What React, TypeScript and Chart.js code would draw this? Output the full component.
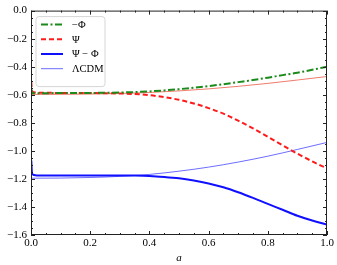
import React, { useEffect, useRef } from "react";
import { Chart, registerables } from "chart.js";

Chart.register(...registerables);

// Scale factor a (model curves)
const aValues = [
  0.001, 0.003, 0.006, 0.01, 0.02, 0.05, 0.1, 0.15, 0.2, 0.25, 0.3, 0.35, 0.4,
  0.45, 0.5, 0.55, 0.6, 0.65, 0.7, 0.75, 0.8, 0.85, 0.9, 0.95, 1.0,
];
const minusPhi = [
  -0.56, -0.585, -0.59, -0.59, -0.59, -0.589, -0.588, -0.588, -0.587, -0.586,
  -0.584, -0.581, -0.576, -0.569, -0.56, -0.55, -0.538, -0.525, -0.51, -0.495,
  -0.478, -0.46, -0.443, -0.422, -0.4,
];
const psi = [
  -0.51, -0.565, -0.578, -0.582, -0.585, -0.586, -0.587, -0.587, -0.588, -0.589,
  -0.591, -0.595, -0.603, -0.617, -0.636, -0.662, -0.695, -0.735, -0.785, -0.84,
  -0.9, -0.96, -1.02, -1.075, -1.125,
];
const psiMinusPhi = [
  -1.07, -1.15, -1.168, -1.172, -1.175, -1.175, -1.175, -1.175, -1.175, -1.175,
  -1.175, -1.176, -1.179, -1.186, -1.196, -1.212, -1.233, -1.26, -1.295, -1.335,
  -1.378, -1.42, -1.463, -1.497, -1.525,
];

// ΛCDM reference curves
const lcdmA = [0.0, 0.1, 0.2, 0.3, 0.4, 0.5, 0.6, 0.7, 0.8, 0.9, 1.0];
const lcdmPsiMinusPhi = [
  -1.195, -1.194, -1.19, -1.182, -1.168, -1.145, -1.116, -1.08, -1.038, -0.99, -0.94,
];
const lcdmPhi = [
  -0.5975, -0.597, -0.595, -0.591, -0.584, -0.5725, -0.558, -0.54, -0.519, -0.495, -0.47,
];

// Axes
const xMin = 0;
const xMax = 1;
const xStep = 0.2;
const xMinorStep = 0.05;
const yMin = -1.6;
const yMax = 0;
const yStep = 0.2;
const yMinorStep = 0.05;
const xTitle = "a";

const legendLabels = ["\u2212\u03A6", "\u03A8", "\u03A8 \u2212 \u03A6", "\u039BCDM"];

const FONT = "'Liberation Serif', 'DejaVu Serif', serif";

const pts = (xs: number[], ys: number[]) => xs.map((x, i) => ({ x, y: ys[i] }));

const fmt = (v: number) => {
  const s = Math.abs(v) < 1e-9 ? "0.0" : v.toFixed(1);
  return s.replace("-", "\u2212");
};

const decorPlugin = {
  id: "decor",
  afterDraw(chart: any) {
    const { ctx, chartArea } = chart;
    const { left, right, top, bottom } = chartArea;
    const xs = chart.scales.x;
    const ys = chart.scales.y;
    ctx.save();
    ctx.strokeStyle = "#222";
    ctx.lineWidth = 1;
    // frame
    ctx.strokeRect(left + 0.5, top + 0.5, right - left - 1, bottom - top - 1);
    const majL = 4;
    const minL = 2;
    ctx.beginPath();
    const nx = Math.round((xMax - xMin) / xMinorStep);
    for (let i = 0; i <= nx; i++) {
      const v = xMin + i * xMinorStep;
      const isMaj = Math.abs(v / xStep - Math.round(v / xStep)) < 1e-6;
      const L = isMaj ? majL : minL;
      const px = Math.round(xs.getPixelForValue(v)) + 0.5;
      ctx.moveTo(px, bottom);
      ctx.lineTo(px, bottom - L);
      ctx.moveTo(px, top);
      ctx.lineTo(px, top + L);
    }
    const ny = Math.round((yMax - yMin) / yMinorStep);
    for (let i = 0; i <= ny; i++) {
      const v = yMin + i * yMinorStep;
      const isMaj = Math.abs(v / yStep - Math.round(v / yStep)) < 1e-6;
      const L = isMaj ? majL : minL;
      const py = Math.round(ys.getPixelForValue(v)) + 0.5;
      ctx.moveTo(left, py);
      ctx.lineTo(left + L, py);
      ctx.moveTo(right, py);
      ctx.lineTo(right - L, py);
    }
    ctx.stroke();

    // legend
    const bx = left + 5;
    const by = top + 6;
    const bw = 69;
    const bh = 70;
    ctx.beginPath();
    const r = 3;
    ctx.moveTo(bx + r, by);
    ctx.arcTo(bx + bw, by, bx + bw, by + bh, r);
    ctx.arcTo(bx + bw, by + bh, bx, by + bh, r);
    ctx.arcTo(bx, by + bh, bx, by, r);
    ctx.arcTo(bx, by, bx + bw, by, r);
    ctx.closePath();
    ctx.fillStyle = "rgba(255,255,255,0.85)";
    ctx.fill();
    ctx.strokeStyle = "#d6d6d6";
    ctx.lineWidth = 1;
    ctx.stroke();
    ctx.font = `10.5px ${FONT}`;
    ctx.textBaseline = "middle";
    ctx.textAlign = "left";
    legendLabels.forEach((label, i) => {
      const ds = chart.data.datasets[i];
      const y = by + 8 + i * 14.7;
      ctx.beginPath();
      ctx.strokeStyle = ds.borderColor;
      ctx.lineWidth = ds.borderWidth;
      ctx.setLineDash(ds.borderDash || []);
      ctx.moveTo(bx + 5, y);
      ctx.lineTo(bx + 27, y);
      ctx.stroke();
      ctx.setLineDash([]);
      ctx.fillStyle = "#000";
      ctx.fillText(label, bx + 36, y + 0.5);
    });
    ctx.restore();
  },
};

export default function App() {
  const ref = useRef<HTMLCanvasElement>(null);
  useEffect(() => {
    document.body.style.margin = "0";
    const common = {
      pointRadius: 0,
      cubicInterpolationMode: "monotone" as const,
    };
    const chart = new Chart(ref.current!, {
      type: "line",
      data: {
        datasets: [
          {
            label: legendLabels[0],
            data: pts(aValues, minusPhi),
            borderColor: "#1a8a1a",
            borderWidth: 2,
            borderDash: [7, 2.5, 2, 2.5],
            order: 1,
            ...common,
          },
          {
            label: legendLabels[1],
            data: pts(aValues, psi),
            borderColor: "#ff1a1a",
            borderWidth: 2,
            borderDash: [5, 3],
            order: 2,
            ...common,
          },
          {
            label: legendLabels[2],
            data: pts(aValues, psiMinusPhi),
            borderColor: "#1010ff",
            borderWidth: 2,
            order: 3,
            ...common,
          },
          {
            label: legendLabels[3],
            data: pts(lcdmA, lcdmPsiMinusPhi),
            borderColor: "rgba(60,60,255,0.75)",
            borderWidth: 1,
            order: 4,
            ...common,
          },
          {
            label: "\u039BCDM \u03A6",
            data: pts(lcdmA, lcdmPhi),
            borderColor: "rgba(235,90,70,0.8)",
            borderWidth: 1,
            order: 5,
            ...common,
          },
        ],
      },
      options: {
        animation: false,
        responsive: false,
        layout: { padding: { top: 6, right: 10, left: 0, bottom: 0 } },
        plugins: { legend: { display: false }, tooltip: { enabled: false } },
        scales: {
          x: {
            type: "linear",
            min: xMin,
            max: xMax,
            grid: { display: false, drawTicks: false, tickLength: 0 },
            border: { display: false },
            ticks: {
              stepSize: xStep,
              padding: 2,
              color: "#000",
              font: { family: FONT, size: 11 },
              callback: (v: any) => fmt(Number(v)),
              maxRotation: 0,
            },
            title: {
              display: true,
              text: xTitle,
              color: "#000",
              padding: { top: 0, bottom: 0 },
              font: { family: FONT, size: 11, style: "italic" },
            },
            afterFit: (s: any) => {
              s.height = 30;
            },
          },
          y: {
            min: yMin,
            max: yMax,
            grid: { display: false, drawTicks: false, tickLength: 0 },
            border: { display: false },
            ticks: {
              stepSize: yStep,
              padding: 4,
              color: "#000",
              font: { family: FONT, size: 11 },
              callback: (v: any) => fmt(Number(v)),
            },
            afterFit: (s: any) => {
              s.width = 31;
            },
          },
        },
      },
      plugins: [decorPlugin],
    });
    return () => chart.destroy();
  }, []);
  return (
    <div style={{ position: "absolute", left: 0, top: 0, width: 337, height: 265 }}>
      <canvas ref={ref} width={337} height={265} style={{ display: "block" }} />
    </div>
  );
}
